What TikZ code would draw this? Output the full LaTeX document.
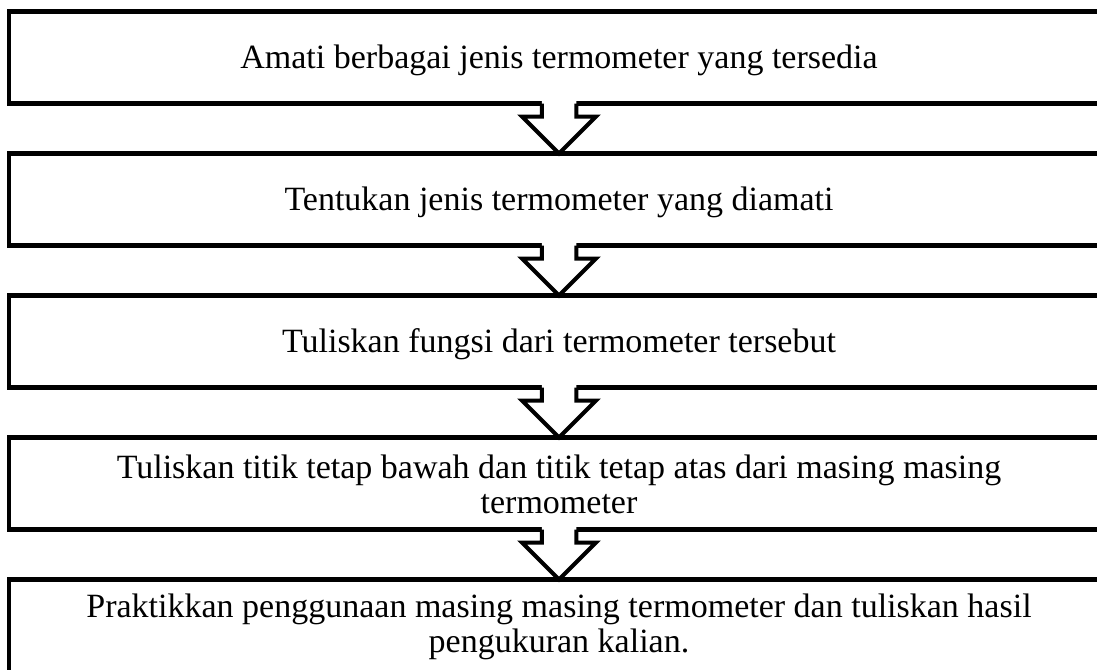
\documentclass[tikz,border=0pt]{standalone}
\usepackage{fontspec}
\setmainfont{Liberation Serif}
\usetikzlibrary{calc}
\tikzset{
  stepbox/.style={draw=black, line width=4.5pt, rectangle, inner sep=0pt, outer sep=0pt,
    minimum width=1110.8pt, minimum height=92pt},
  steptext/.style={font=\fontsize{34}{35.5}\selectfont, align=center, inner sep=0pt, outer sep=0pt},
  arrowline/.style={draw=black, line width=4pt, line join=miter},
}
\newcommand{\flowarrow}[2]{%
  \fill[white] ($(#1)+(-17.25,-5)$) |- ($(#2)+(-37,-37)$) -- (#2) -- ($(#2)+(37,-37)$) -| ($(#1)+(17.25,-5)$) -- cycle;
  \draw[arrowline] ($(#1)+(-17.25,0)$) |- ($(#2)+(-37,-37)$) -- (#2) -- ($(#2)+(37,-37)$) -| ($(#1)+(17.25,0)$);
}
\begin{document}
\begin{tikzpicture}[x=1pt,y=-1pt]
  \clip (0,0) rectangle (1097,669);
  \fill[white] (0,0) rectangle (1097,669);
  % boxes
  \node[stepbox] (b1) at (564.6,57.5) {};
  \node[stepbox] (b2) at (564.6,199.5) {};
  \node[stepbox] (b3) at (564.6,341.5) {};
  \node[stepbox] (b4) at (564.6,483.5) {};
  \node[stepbox, minimum height=120pt] (b5) at (564.6,639.5) {};
  % texts
  \node[steptext, anchor=base] (t1) at (559,68) {Amati berbagai jenis termometer yang tersedia};
  \node[steptext, anchor=base] (t2) at (559,210) {Tentukan jenis termometer yang diamati};
  \node[steptext, anchor=base] (t3) at (559,352) {Tuliskan fungsi dari termometer tersebut};
  \node[steptext] (t4) at (559,484.4) {Tuliskan titik tetap bawah dan titik tetap atas dari masing masing\\termometer};
  \node[steptext] (t5) at (559,627) {Praktikkan penggunaan masing masing termometer dan tuliskan hasil\\pengukuran kalian.};
  % arrows
  \coordinate (a1s) at (b1.south -| t1);
  \coordinate (a1e) at (b2.north -| t1);
  \coordinate (a2s) at (b2.south -| t1);
  \coordinate (a2e) at (b3.north -| t1);
  \coordinate (a3s) at (b3.south -| t1);
  \coordinate (a3e) at (b4.north -| t1);
  \coordinate (a4s) at (b4.south -| t1);
  \coordinate (a4e) at (b5.north -| t1);
  \flowarrow{a1s}{a1e}
  \flowarrow{a2s}{a2e}
  \flowarrow{a3s}{a3e}
  \flowarrow{a4s}{a4e}
\end{tikzpicture}
\end{document}
